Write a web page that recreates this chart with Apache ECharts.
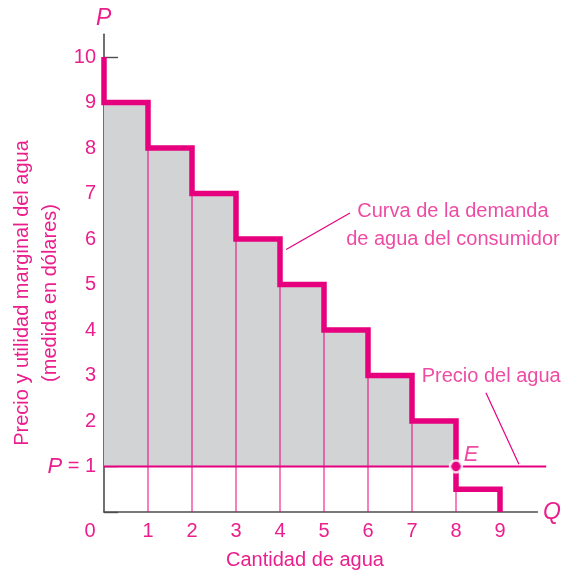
<!DOCTYPE html>
<html><head><meta charset="utf-8">
<script src="https://cdn.jsdelivr.net/npm/echarts@6/dist/echarts.min.js"></script>
<style>html,body{margin:0;padding:0;background:#fff}#c{width:576px;height:571px}</style>
</head><body><div id="c"></div>
<script>
// ---- data ----
const quantities = [0,1,2,3,4,5,6,7,8,9];
const prices = [9,8,7,6,5,4,3,2,0.5];   // marginal value of each unit of water
const topPrice = 10;
const waterPrice = 1;
const equilibriumQ = 8;
const xTicks = [0,1,2,3,4,5,6,7,8,9];
const yTicks = [1,2,3,4,5,6,7,8,9,10];
const priceLineEnd = 10.05;
const demandNote = ['Curva de la demanda','de agua del consumidor'];
const demandNotePos = [7.93, 6.29];
const demandLeader = [[4.14,5.77],[5.59,6.57]];
const priceNote = 'Precio del agua';
const priceNotePos = [8.8, 2.97];
const priceLeader = [[8.68,2.62],[9.43,1.05]];

const PINK = '#e6007e', TXT = '#ea1e8c', GRAY = '#d1d3d4', AX = '#4d4d4d';
const FONT = '"Liberation Sans", Arial, sans-serif';
const FS = 20;

// step curve points
const step = [[0, topPrice]];
prices.forEach((p,i)=>{ step.push([quantities[i], p]); step.push([quantities[i+1], p]); });
step.push([quantities[quantities.length-1], 0]);

const rects = prices.map((p,i)=>[i,p]).filter(d=>d[1]>waterPrice);
const verticals = prices.map((p,i)=>[i,p]).filter(d=>d[0]>0);

const chart = echarts.init(document.getElementById('c'));
chart.setOption({
  animation:false,
  grid:{left:104, right:38.6, top:34.25, bottom:59},
  xAxis:{type:'value', min:0, max:9.85, interval:1,
    axisLine:{show:true, lineStyle:{color:AX, width:1.6}},
    axisTick:{show:false}, splitLine:{show:false},
    axisLabel:{color:TXT, fontFamily:FONT, fontSize:FS, margin:9,
      showMaxLabel:false,
      formatter:v=> xTicks.includes(v) ? (v===0 ? '{z|0}' : String(v)) : '',
      rich:{z:{color:TXT, fontFamily:FONT, fontSize:FS, padding:[0,28,0,0]}}}},
  yAxis:{type:'value', min:0, max:10.5, interval:1,
    axisLine:{show:true, lineStyle:{color:AX, width:1.6}},
    axisTick:{show:true, inside:true, length:14, lineStyle:{color:AX, width:1.4}},
    splitLine:{show:false},
    axisLabel:{color:TXT, fontFamily:FONT, fontSize:FS, margin:8, showMaxLabel:false,
      formatter:v=> !yTicks.includes(v) ? '' : (v===waterPrice ? '{i|P} = 1' : String(v)),
      rich:{i:{fontStyle:'italic', color:TXT, fontFamily:FONT, fontSize:22}}}},
  graphic:[
    {type:'text', left:96, top:7, style:{text:'P', font:'italic 23px '+FONT, fill:TXT}},
    {type:'text', left:543, top:501, style:{text:'Q', font:'italic 23px '+FONT, fill:TXT}},
    {type:'text', x:22, y:293, rotation:Math.PI/2, style:{text:'Precio y utilidad marginal del agua', font:FS+'px '+FONT, fill:TXT, textAlign:'center', textVerticalAlign:'middle'}},
    {type:'text', x:50, y:293, rotation:Math.PI/2, style:{text:'(medida en dólares)', font:FS+'px '+FONT, fill:TXT, textAlign:'center', textVerticalAlign:'middle'}},
    {type:'text', x:305, y:560, style:{text:'Cantidad de agua', font:FS+'px '+FONT, fill:TXT, textAlign:'center', textVerticalAlign:'middle'}}
  ],
  series:[
    {type:'custom', z:1, data:rects, clip:false,
      renderItem:(params,api)=>{
        const a=api.coord([api.value(0), waterPrice]), b=api.coord([api.value(0)+1, api.value(1)]);
        return {type:'rect', shape:{x:a[0], y:b[1], width:b[0]-a[0], height:a[1]-b[1]}, style:{fill:GRAY}};
      }},
    {type:'custom', z:2, data:verticals, clip:false,
      renderItem:(params,api)=>{
        const a=api.coord([api.value(0), 0]), b=api.coord([api.value(0), api.value(1)]);
        return {type:'line', shape:{x1:a[0], y1:a[1], x2:b[0], y2:b[1]}, style:{stroke:PINK, lineWidth:1}};
      }},
    {type:'custom', z:3, clip:false, data:[[0, priceLineEnd, waterPrice]],
      renderItem:(params,api)=>{
        const a=api.coord([api.value(0), api.value(2)]), b=api.coord([api.value(1), api.value(2)]);
        return {type:'line', shape:{x1:a[0], y1:a[1], x2:b[0], y2:b[1]}, style:{stroke:PINK, lineWidth:2.2}};
      }},
    {type:'line', z:4, clip:false, symbol:'none', data:step,
      lineStyle:{color:PINK, width:5.5, join:'miter', cap:'butt'}},
    {type:'line', z:3, clip:false, symbol:'none', data:demandLeader, lineStyle:{color:PINK, width:1.2}},
    {type:'line', z:3, clip:false, symbol:'none', data:priceLeader, lineStyle:{color:PINK, width:1.2}},
    {type:'scatter', z:6, clip:false, data:[[equilibriumQ, waterPrice]], symbolSize:12,
      itemStyle:{color:PINK, borderColor:'#fff', borderWidth:2.5},
      label:{show:true, position:[15,-15], formatter:'E', fontStyle:'italic', fontSize:22, color:TXT, fontFamily:FONT}},
    {type:'scatter', z:6, clip:false, symbolSize:0, data:[demandNotePos],
      label:{show:true, position:'inside', formatter:demandNote.join('\n'), color:TXT, fontFamily:FONT, fontSize:FS, lineHeight:28, align:'center', verticalAlign:'middle'}},
    {type:'scatter', z:6, clip:false, symbolSize:0, data:[priceNotePos],
      label:{show:true, position:'inside', formatter:priceNote, color:TXT, fontFamily:FONT, fontSize:FS, align:'center', verticalAlign:'middle'}}
  ]
});
</script></body></html>
